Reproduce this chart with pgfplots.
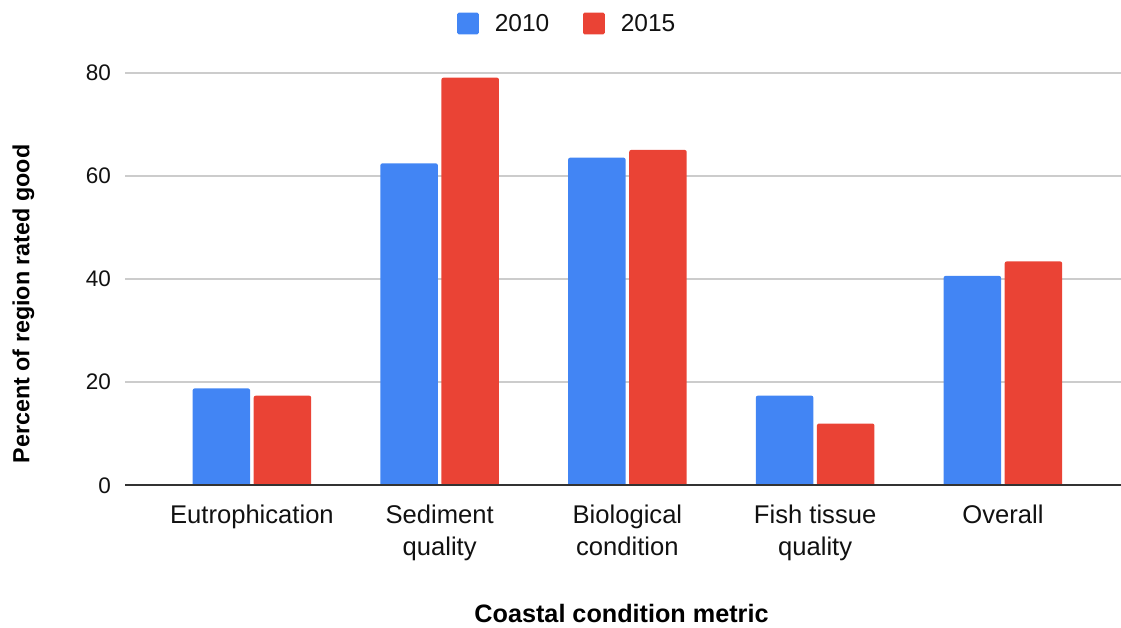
\documentclass[border=0pt]{standalone}
\usepackage{pgfplots}
\pgfplotsset{compat=1.18}
\usepackage{fontspec}
\setmainfont{Liberation Sans}
\definecolor{gblue}{HTML}{4285F4}
\definecolor{gred}{HTML}{EA4335}
\definecolor{gridc}{HTML}{CCCCCC}
\definecolor{basec}{HTML}{333333}
\definecolor{txt}{HTML}{111111}
\begin{document}
\begin{tikzpicture}[x=1pt,y=1pt]
\useasboundingbox (0,0) rectangle (1121,628);
\begin{axis}[
  at={(125pt,142.5pt)}, anchor=south west,
  scale only axis, width=996pt, height=413pt,
  xmin=-0.676, xmax=4.629, ymin=0, ymax=80,
  ybar=3.6pt, bar width=57.5pt,
  axis line style={draw=none},
  major tick length=0pt,
  xtick={0,1,2,3,4},
  xticklabels={Eutrophication, Sediment\\quality, Biological\\condition, Fish tissue\\quality, Overall},
  xticklabel style={anchor=north, inner sep=0pt, yshift=-19.0pt, align=center, text=txt, font=\fontsize{25.6}{32.3}\selectfont},
  ytick={0,20,40,60,80},
  yticklabel style={anchor=east, inner sep=0pt, xshift=-14pt, text=txt, font=\fontsize{22.5}{26}\selectfont},
  /pgf/number format/assume math mode=true,
  ymajorgrids, grid style={gridc, line width=2pt},
  xlabel={Coastal condition metric},
  xlabel style={at={(axis description cs:0.4985,-0.3099)}, anchor=center, inner sep=0pt, font=\fontsize{25.2}{28}\selectfont\bfseries},
  ylabel={Percent of region rated good},
  ylabel style={at={(axis description cs:-0.1019,0.4395)}, anchor=center, rotate=0, inner sep=0pt, font=\fontsize{23.3}{28}\selectfont\bfseries},
  legend columns=2,
  legend style={at={(axis description cs:0.443,1.1186)}, anchor=center, draw=none, fill=none,
    font=\fontsize{24.5}{28}\selectfont, text=txt,
    nodes={inner sep=0pt},
    /tikz/every odd column/.style={column sep=16pt},
    /tikz/every even column/.style={column sep=33.7pt}},
  legend image code/.code={\fill[#1, rounded corners=1.5pt] (0pt,-10.85pt) rectangle (21.7pt,10.85pt);},
]
\addplot[fill=gblue, draw=none, rounded corners=2pt] coordinates {(0,18.8) (1,62.4) (2,63.5) (3,17.4) (4,40.6)};
\addplot[fill=gred, draw=none, rounded corners=2pt] coordinates {(0,17.4) (1,79.0) (2,65.0) (3,12.0) (4,43.4)};
\legend{2010,2015}
\draw[basec, line width=3pt] (axis cs:-0.676,0) -- (axis cs:4.629,0);
\end{axis}
\end{tikzpicture}
\end{document}
